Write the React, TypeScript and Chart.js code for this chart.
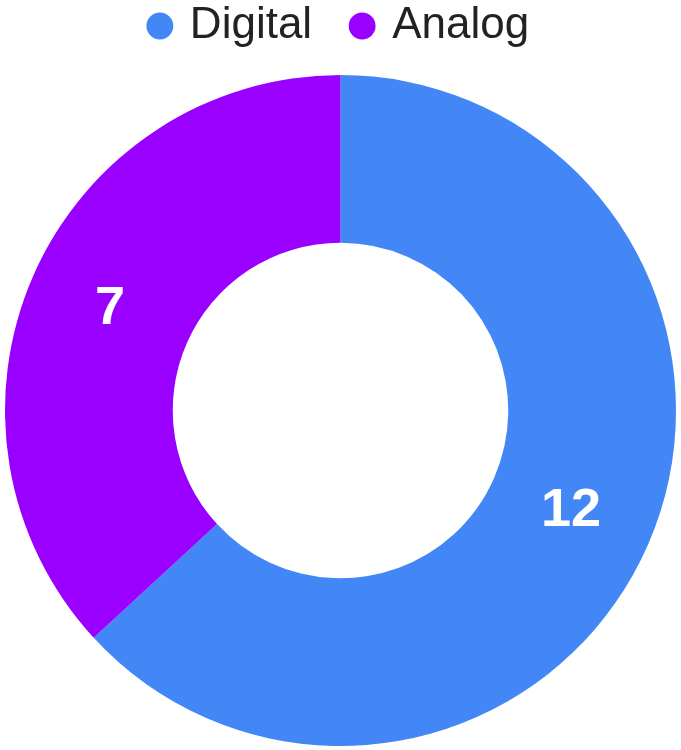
import React, { useEffect, useRef } from "react";
import { Chart, registerables } from "chart.js";

Chart.register(...registerables);

const categories = ["Digital", "Analog"];
const seriesValues = [12, 7];
const sliceColors = ["#4287f5", "#9900ff"];

const FONT = "'Liberation Sans', Arial, sans-serif";

const valueLabelPlugin = {
  id: "valueLabels",
  afterDatasetsDraw(chart: any) {
    const ctx = chart.ctx;
    const meta = chart.getDatasetMeta(0);
    ctx.save();
    ctx.fillStyle = "#ffffff";
    ctx.font = `bold 54px ${FONT}`;
    ctx.textAlign = "center";
    ctx.textBaseline = "middle";
    meta.data.forEach((arc: any, i: number) => {
      const p = arc.tooltipPosition();
      ctx.fillText(String(chart.data.datasets[0].data[i]), p.x, p.y);
    });
    ctx.restore();
  },
};

export default function App() {
  const ref = useRef<HTMLCanvasElement | null>(null);
  useEffect(() => {
    if (!ref.current) return;
    const chart = new Chart(ref.current, {
      type: "doughnut",
      data: {
        labels: categories,
        datasets: [
          {
            data: seriesValues,
            backgroundColor: sliceColors,
            borderWidth: 0,
            hoverOffset: 0,
          },
        ],
      },
      options: {
        animation: false,
        responsive: false,
        maintainAspectRatio: false,
        cutout: "50%",
        layout: { padding: { top: -38, bottom: 0, left: 5, right: 5 } },
        plugins: {
          legend: {
            position: "top",
            labels: {
              usePointStyle: true,
              pointStyle: "circle",
              boxWidth: 16,
              boxHeight: 19,
              padding: 42,
              color: "#222222",
              font: { family: FONT, size: 44 },
            },
          },
          tooltip: { enabled: false },
        },
      },
      plugins: [valueLabelPlugin],
    });
    return () => chart.destroy();
  }, []);
  return (
    <div style={{ position: "fixed", left: 0, top: 0, width: 681, height: 750, overflow: "hidden" }}>
      <canvas ref={ref} width={681} height={763} style={{ display: "block" }} />
    </div>
  );
}
